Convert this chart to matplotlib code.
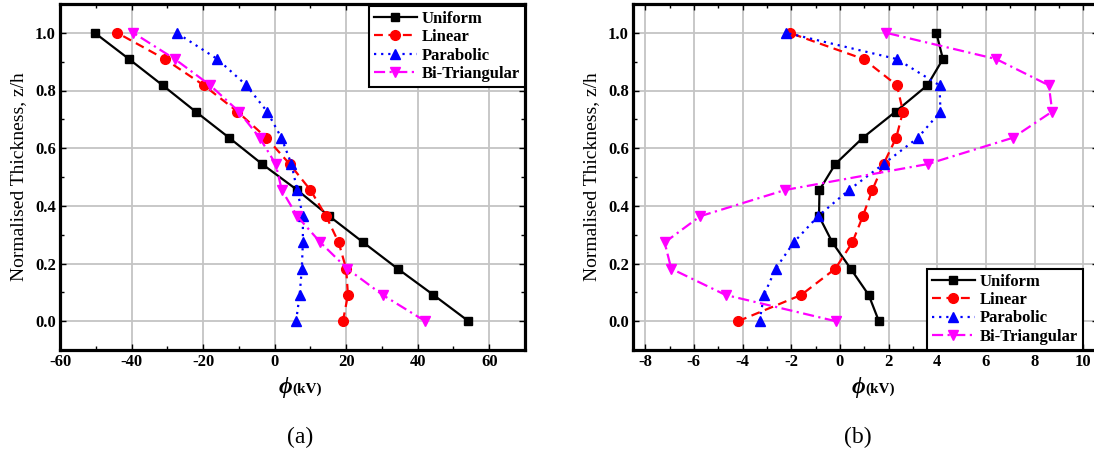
import matplotlib
matplotlib.use('Agg')
import matplotlib.pyplot as plt
from matplotlib.ticker import MultipleLocator, FormatStrFormatter

# normalised thickness positions (12 layers)
z = [0.0, 0.091, 0.182, 0.273, 0.364, 0.455, 0.545, 0.636, 0.727, 0.818, 0.909, 1.0]

# (a) potential, kV (listed bottom -> top)
uniform_a = [54.2, 44.4, 34.4, 24.8, 15.3, 6.3, -3.5, -12.7, -22.1, -31.3, -40.7, -50.3]
linear_a = [19.1, 20.5, 20.0, 17.9, 14.4, 10.0, 4.2, -2.3, -10.4, -19.8, -30.7, -44.0]
parabolic_a = [6.0, 7.0, 7.6, 7.9, 7.9, 6.3, 4.7, 1.9, -2.1, -7.9, -16.0, -27.4]
bitri_a = [42.1, 30.2, 20.3, 12.8, 6.3, 2.0, 0.3, -4.2, -10.0, -18.0, -27.9, -39.5]

# (b) potential, kV
uniform_b = [1.60, 1.18, 0.44, -0.31, -0.86, -0.84, -0.19, 0.94, 2.29, 3.59, 4.23, 3.96]
linear_b = [-4.18, -1.59, -0.19, 0.51, 0.94, 1.33, 1.79, 2.31, 2.59, 2.34, 0.97, -2.07]
parabolic_b = [-3.30, -3.12, -2.64, -1.90, -0.90, 0.37, 1.79, 3.20, 4.13, 4.09, 2.34, -2.20]
bitri_b = [-0.18, -4.70, -6.93, -7.20, -5.74, -2.25, 3.61, 7.10, 8.72, 8.58, 6.42, 1.90]

labels = ['Uniform', 'Linear', 'Parabolic', 'Bi-Triangular']
styles = [
    dict(color='black', linestyle='-', marker='s', markersize=6),
    dict(color='red', linestyle=(0, (4, 2.5)), marker='o', markersize=7),
    dict(color='blue', linestyle=(0, (1, 2.2)), marker='^', markersize=7.5),
    dict(color='magenta', linestyle=(0, (5, 2, 1, 2)), marker='v', markersize=7.5),
]

plt.rcParams['font.family'] = 'Liberation Serif'
plt.rcParams['axes.unicode_minus'] = False

fig = plt.figure(figsize=(10.94, 4.59), dpi=100)
ax1 = fig.add_axes([60 / 1094, 1 - 350 / 459, 465 / 1094, 346 / 459])
ax2 = fig.add_axes([633 / 1094, 1 - 350 / 459, 465 / 1094, 346 / 459])


def style_axes(ax, xlim, xmajor, xminor):
    ax.set_xlim(*xlim)
    ax.set_ylim(-0.1, 1.1)
    ax.xaxis.set_major_locator(MultipleLocator(xmajor))
    ax.xaxis.set_minor_locator(MultipleLocator(xminor))
    ax.yaxis.set_major_locator(MultipleLocator(0.2))
    ax.yaxis.set_minor_locator(MultipleLocator(0.1))
    ax.yaxis.set_major_formatter(FormatStrFormatter('%.1f'))
    ax.grid(which='major', color='#c4c4c4', linewidth=1.3)
    ax.set_axisbelow(True)
    ax.tick_params(which='both', direction='in', top=True, right=True,
                   labelsize=12, pad=3)
    ax.tick_params(which='major', length=4, width=1)
    ax.tick_params(which='minor', length=3, width=1)
    for lab in ax.get_xticklabels() + ax.get_yticklabels():
        lab.set_fontweight('bold')
    for sp in ax.spines.values():
        sp.set_linewidth(2.3)
    ax.set_ylabel('Normalised Thickness, z/h', fontsize=14, labelpad=6)
    # phi (kV) axis title
    ax.text(0.5, -0.125, '\u03d5', transform=ax.transAxes, ha='right', va='baseline',
            fontsize=17, fontweight='bold', fontstyle='italic')
    ax.text(0.5, -0.125, '(kV)', transform=ax.transAxes, ha='left', va='baseline',
            fontsize=11, fontweight='bold')


for ax, series in [(ax1, [uniform_a, linear_a, parabolic_a, bitri_a]),
                   (ax2, [uniform_b, linear_b, parabolic_b, bitri_b])]:
    for vals, lab, st in zip(series, labels, styles):
        ax.plot(vals, z, label=lab, linewidth=1.6, **st)

style_axes(ax1, (-60, 70), 20, 10)
style_axes(ax2, (-8.5, 10.6), 2, 1)

leg_kw = dict(prop={'weight': 'bold', 'size': 12}, fancybox=False, edgecolor='black',
              framealpha=1, handlelength=2.6, handletextpad=0.3, borderpad=0.3,
              labelspacing=0.15, borderaxespad=0)
leg1 = ax1.legend(loc='upper right', bbox_to_anchor=(1.0, 0.995), **leg_kw)
leg2 = ax2.legend(loc='lower right', bbox_to_anchor=(450 / 465, 0.0), **leg_kw)
for leg in (leg1, leg2):
    leg.get_frame().set_linewidth(1.5)

fig.text(300 / 1094, 1 - 437 / 459, '(a)', ha='center', va='center', fontsize=17)
fig.text(858 / 1094, 1 - 437 / 459, '(b)', ha='center', va='center', fontsize=17)

fig.savefig('out.png', dpi=100)
